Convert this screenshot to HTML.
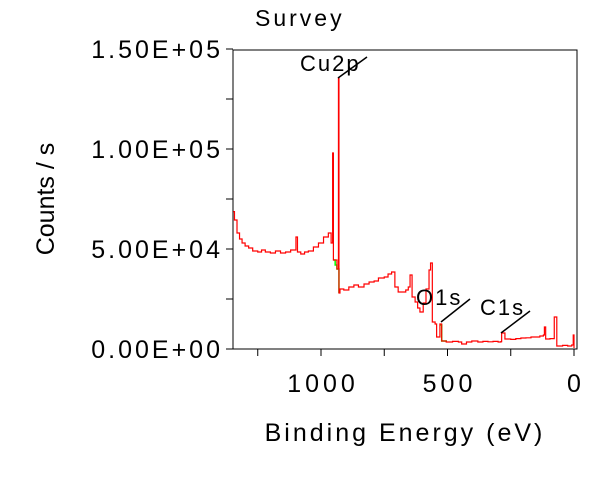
<!DOCTYPE html>
<html><head><meta charset="utf-8"><style>
body{margin:0;background:#fff;}
svg{display:block;font-family:"Liberation Sans",Arial,sans-serif;}
</style></head><body>
<svg id="chart" width="612" height="490">
<text x="255" y="26" font-size="23" letter-spacing="3">Survey</text>
<rect x="233" y="50" width="344" height="299" fill="none" stroke="#000" stroke-width="1"/>
<g id="yticks"></g><g id="xticks"></g>
<g id="series"></g>
<text x="405" y="441" font-size="25" text-anchor="middle" letter-spacing="3">Binding Energy (eV)</text>
<text transform="translate(54,199) rotate(-90)" font-size="25" text-anchor="middle">Counts / s</text>
<g id="annots"></g>
</svg>
<script>
const yTickValues=[0,25000,50000,75000,100000,125000,150000];
const yTickLabels=["0.00E+00","","5.00E+04","","1.00E+05","","1.50E+05"];
const xTickValues=[1250,1000,750,500,250,0];
const xTickLabels=["","1000","","500","","0"];
const energies=[1347,1342,1332,1322,1312,1300,1286,1270,1250,1235,1220,1200,1180,1160,1140,1120,1099,1093,1080,1065,1050,1030,1010,990,971,960,954,951,937,931,929,925,910,890,870,852,830,810,790,773,750,735,721,708,695,681,665,655,648,640,628,618,609,596,585,573,567,560,549,543,530,523,505,480,457,444,425,404,380,360,340,320,300,289,286,273,250,230,210,190,170,154,135,121,117,112,95,78,68,45,25,9,3,0];
const counts=[68700,64500,58000,55000,53000,51500,50500,49000,48500,49500,48500,48000,49000,48000,48500,49500,56000,48500,47500,48500,49000,51000,53000,56000,58000,53000,98000,44500,40000,135500,28000,30000,29500,31000,32000,31000,32500,33500,34000,35500,36000,37500,38500,31000,28500,28500,29500,31000,37000,26000,23500,20500,18500,23000,30000,39500,43000,13500,12500,6000,12500,4000,3500,3800,3500,2500,3500,4000,3500,3800,3600,3800,3500,3700,8000,5000,4800,5200,5500,5600,6000,6000,6500,7000,11000,5000,5200,16000,1500,1800,1500,2000,7000,500];
const bgEnergies=[951,944,937,931,929];
const bgCounts=[44500,42000,40000,40000,28000];
const bgEnergies2=[530,523,505];
const bgCounts2=[12000,4000,3500];
const X=e=>574-e*0.253;
const Y=c=>349-c*0.002;
const NS="http://www.w3.org/2000/svg";
const yt=document.getElementById('yticks');
yTickValues.forEach((v,i)=>{
  const l=document.createElementNS(NS,'line');
  l.setAttribute('x1',226);l.setAttribute('x2',233);l.setAttribute('y1',Y(v));l.setAttribute('y2',Y(v));l.setAttribute('stroke','#000');
  
  
  yt.appendChild(l);
  if(yTickLabels[i]){
    const t=document.createElementNS(NS,'text');
    t.setAttribute('x',223);t.setAttribute('y',Y(v)+9);t.setAttribute('font-size',25);t.setAttribute('text-anchor','end');t.setAttribute('letter-spacing','3');
    t.textContent=yTickLabels[i];
    
    
    yt.appendChild(t);
  }
});
const xt=document.getElementById('xticks');
xTickValues.forEach((v,i)=>{
  const l=document.createElementNS(NS,'line');
  l.setAttribute('x1',X(v));l.setAttribute('x2',X(v));l.setAttribute('y1',349);l.setAttribute('y2',356);l.setAttribute('stroke','#000');
  
  
  xt.appendChild(l);
  if(xTickLabels[i]){
    const t=document.createElementNS(NS,'text');
    t.setAttribute('x',X(v)+2);t.setAttribute('y',392);t.setAttribute('font-size',25);t.setAttribute('text-anchor','middle');t.setAttribute('letter-spacing','4');
    t.textContent=xTickLabels[i];
    
    
    xt.appendChild(t);
  }
});
function stairs(es,cs){
  let d='M'+X(es[0])+','+Y(cs[0]);
  for(let i=1;i<es.length;i++){d+=' H'+X(es[i])+' V'+Y(cs[i]);}
  return d;
}
const sg=document.getElementById('series');
[[bgEnergies,bgCounts],[bgEnergies2,bgCounts2]].forEach(([e,c])=>{
  const p=document.createElementNS(NS,'path');
  p.setAttribute('d',stairs(e,c));p.setAttribute('fill','none');p.setAttribute('stroke','#00ff00');p.setAttribute('stroke-width',1.5);
  
  
  sg.appendChild(p);
});
const sp=document.createElementNS(NS,'path');
sp.setAttribute('d',stairs(energies,counts));sp.setAttribute('fill','none');sp.setAttribute('stroke','#ff0000');sp.setAttribute('stroke-width',1.2);


sg.appendChild(sp);
const ann=[["Cu2p",300,71,338,78,367,57],["O1s",416,305,441,322,470,299],["C1s",480,315,501,333,530,311]];
const ag=document.getElementById('annots');
ann.forEach(a=>{
  const t=document.createElementNS(NS,'text');
  t.setAttribute('x',a[1]);t.setAttribute('y',a[2]);t.setAttribute('font-size',22);t.setAttribute('letter-spacing','2');t.textContent=a[0];
  
  
  ag.appendChild(t);
  const l=document.createElementNS(NS,'line');
  l.setAttribute('x1',a[3]);l.setAttribute('y1',a[4]);l.setAttribute('x2',a[5]);l.setAttribute('y2',a[6]);l.setAttribute('stroke','#000');l.setAttribute('stroke-width',1.5);
  
  
  ag.appendChild(l);
});
</script>
</body></html>
